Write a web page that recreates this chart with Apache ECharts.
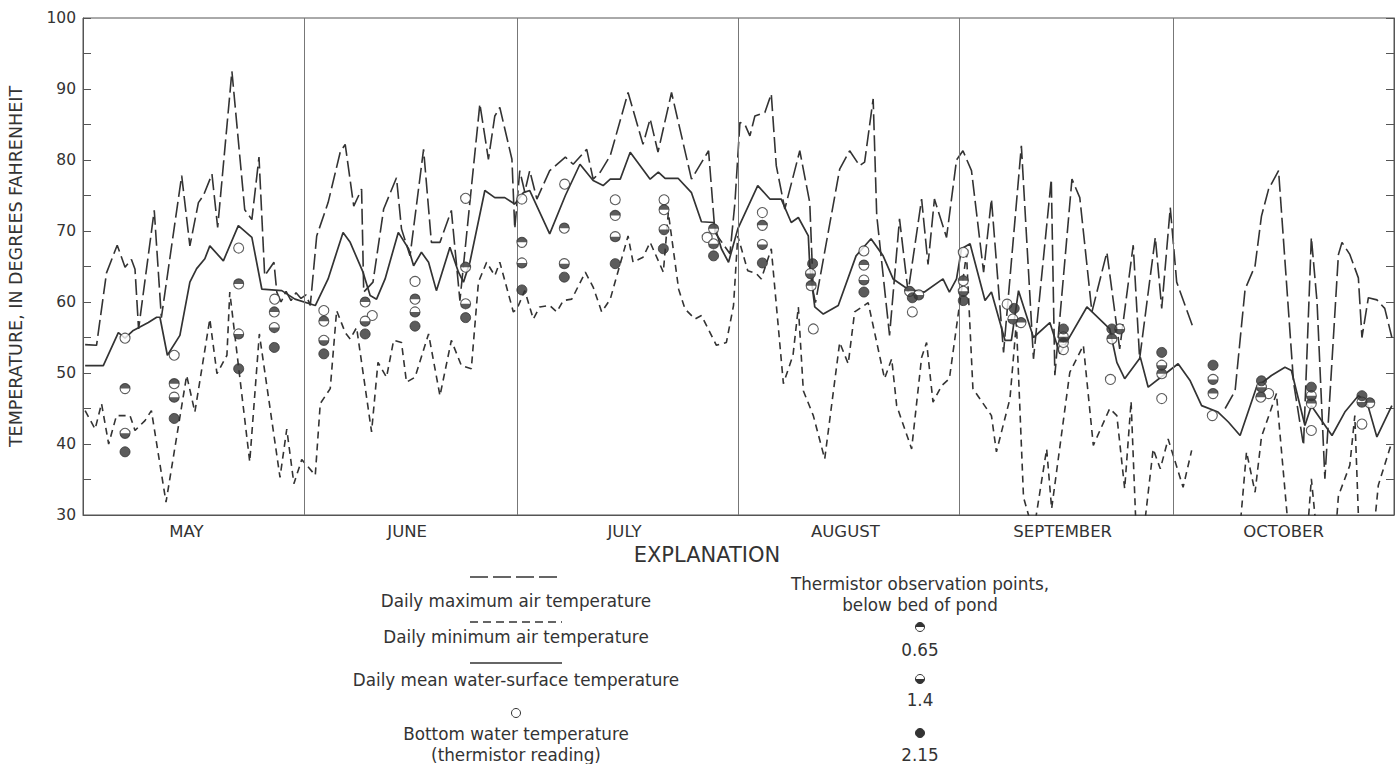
<!DOCTYPE html>
<html><head><meta charset="utf-8">
<script src="https://cdn.jsdelivr.net/npm/echarts@6/dist/echarts.min.js"></script>
<style>html,body{margin:0;padding:0;background:#fff}#c{width:1399px;height:764px}</style>
</head><body><div id="c"></div>
<script>
// x = day of season (0 = May 1), y = degrees Fahrenheit
const monthNames = ['MAY','JUNE','JULY','AUGUST','SEPTEMBER','OCTOBER'];
const monthLabelDays = [14.5, 45.5, 76, 107, 137.5, 168.5];
const monthStartDays = [31, 61, 92, 123, 153];
const yTickLabels = [30,40,50,60,70,80,90,100];

const maxAir = [[0.3,54],[1.9,53.9],[3.3,64.1],[4.8,68.0],[5.9,64.9],[6.8,66.0],[7.3,64.6],[7.8,56.2],[10.0,72.9],[11.0,57.8],[13.85,77.8],[15.0,67.9],[16.2,74.0],[16.9,75.0],[18.1,78.0],[18.9,70.5],[20.9,92.5],[22.7,73.0],[23.7,71.6],[24.7,80.4],[25.5,63.7],[26.8,65.6],[27.2,61.4],[27.8,60.0],[28.5,61.5],[29.2,60.2],[29.9,61.3],[30.6,60.5],[31.3,61.0],[31.9,59.5],[32.8,69.3],[34.4,74.0],[36.1,81.1],[36.8,82.2],[38.0,73.5],[39.1,75.9],[39.4,61.4],[40.7,62.8],[42.2,73.1],[44.0,77.5],[44.7,70.3],[45.9,66.5],[47.8,81.5],[48.9,68.4],[50.1,68.4],[51.7,72.9],[52.9,60.2],[55.7,87.9],[56.9,80.1],[57.8,86.2],[58.5,87.4],[60.2,80.1],[60.6,70.3],[61.3,78.5],[62.0,75.5],[62.7,78.5],[63.7,74.5],[65.5,78.5],[67.7,80.4],[68.8,79.4],[70.7,81.5],[71.6,77.3],[72.6,78.3],[74.0,80.6],[76.5,89.5],[78.6,82.2],[79.6,85.8],[80.7,81.1],[82.6,89.5],[85.4,77.3],[87.8,81.3],[88.7,69.8],[90.8,66.8],[91.5,74.0],[92.2,85.3],[92.9,85.0],[93.6,83.4],[94.3,86.2],[95.7,86.7],[96.6,89.3],[97.3,79.2],[98.5,73.1],[100.6,81.3],[102.0,74.0],[102.5,61.4],[102.8,59.9],[106.2,78.7],[107.6,81.3],[109.0,79.2],[109.7,79.7],[110.9,88.6],[111.4,72.2],[113.2,55.3],[114.6,71.7],[115.8,61.4],[117.7,74.5],[118.6,65.3],[119.5,74.5],[121.2,69.1],[122.6,80.0],[123.5,81.3],[124.7,78.5],[126.4,64.2],[127.5,74.5],[129.2,52.9],[131.7,82.0],[133.4,52.0],[135.9,77.3],[136.4,49.7],[138.8,77.3],[139.9,74.7],[141.6,58.6],[143.7,67.0],[145.5,53.4],[147.4,68.0],[148.3,52.0],[150.5,69.1],[151.4,59.1],[152.6,73.3],[153.5,62.8],[155.8,56.4],[158,'-'],[160.3,45.0],[161.7,47.5],[163.1,61.8],[164.5,65.1],[165.4,72.1],[166.4,75.9],[167.8,78.5],[169.9,48.7],[171.3,39.8],[172.4,69.1],[173.2,60.0],[174.3,35.1],[176.2,66.7],[176.7,68.4],[177.8,66.7],[179.0,63.4],[179.5,55.0],[180.4,60.6],[181.6,60.3],[182.7,59.1],[183.7,55.0]];

const minAir = [[0.3,44.7],[1.7,42.1],[2.6,45.7],[3.6,40.0],[4.7,44.0],[6.6,44.0],[7.3,41.9],[8.7,43.3],[9.6,44.7],[11.65,31.8],[14.55,49.65],[15.7,44.5],[17.8,57.6],[18.8,49.9],[20.2,52.5],[20.6,61.4],[23.4,37.5],[24.75,55.5],[27.65,35.3],[28.6,42.1],[29.6,34.4],[30.7,37.8],[31.4,37.0],[32.6,35.6],[33.3,45.7],[34.7,47.8],[35.6,58.8],[36.8,55.7],[37.5,54.8],[38.4,56.4],[40.5,41.7],[41.4,51.5],[42.6,49.4],[43.6,54.6],[44.7,54.3],[45.4,48.7],[46.6,49.4],[48.5,55.5],[50.1,46.8],[51.7,54.6],[53.1,51.05],[54.5,50.6],[55.5,62.8],[56.65,65.6],[57.8,63.7],[58.5,65.6],[60.4,58.6],[60.9,59.0],[62.0,61.6],[63.2,57.6],[64.1,59.3],[65.5,59.5],[66.5,58.6],[67.4,60.2],[68.6,60.4],[70.5,64.2],[71.6,62.1],[72.8,58.6],[74.0,60.4],[76.5,69.3],[77.2,65.6],[78.6,66.3],[79.6,68.4],[81.45,64.2],[82.15,72.6],[83.6,61.8],[84.5,59.0],[85.9,57.6],[86.8,58.1],[88.9,53.9],[90.3,54.3],[91.3,59.5],[91.9,69.3],[93.3,64.4],[94.5,64.0],[95.2,63.25],[96.6,67.5],[98.3,48.5],[99.65,52.5],[100.4,59.3],[101.1,47.5],[102.5,44.0],[104.1,37.9],[106.2,54.3],[107.4,51.3],[108.3,58.6],[110.2,59.9],[112.5,49.2],[113.5,52.0],[114.2,45.4],[116.3,39.3],[117.7,52.2],[118.4,54.3],[119.3,45.9],[120.5,48.2],[121.6,49.2],[124.0,66.8],[124.9,47.8],[127.5,44.0],[128.2,38.9],[130.1,46.4],[131.0,57.1],[132.0,32.5],[133.4,27.5],[135.25,39.3],[135.95,30.9],[138.5,50.1],[140.4,53.9],[141.8,39.8],[144.1,45.0],[145.1,44.0],[146.2,33.7],[147.1,46.0],[147.8,28.0],[148.8,27.0],[150.2,39.3],[151.2,36.5],[152.3,40.7],[154.4,33.9],[155.6,39.1],[158,'-'],[162.2,26.0],[163.3,38.9],[164.5,33.2],[165.4,41.0],[167.5,47.1],[169.0,30.0],[169.6,24.0],[171.6,24.0],[172.4,35.1],[172.9,30.0],[173.3,25.0],[175.7,26.0],[176.2,32.7],[177.8,37.0],[178.5,44.0],[179.0,30.0],[179.4,24.0],[180.8,24.0],[181.8,34.2],[183.7,40.3]];

const meanWater = [[0.3,51.05],[2.85,51.05],[4.96,55.7],[5.9,54.9],[7.06,56.0],[9.17,57.1],[10.34,57.85],[10.8,57.85],[11.84,52.5],[13.6,55.3],[15.0,62.8],[15.95,64.7],[17.1,66.1],[17.8,67.9],[19.7,65.8],[21.8,70.75],[23.7,69.1],[25.1,61.8],[27.9,61.6],[29.75,60.4],[32.6,59.5],[34.4,63.25],[36.5,69.8],[37.5,68.4],[39.3,64.2],[40.3,60.9],[41.2,60.4],[42.4,63.25],[44.25,69.8],[45.7,67.5],[46.4,65.1],[47.5,67.0],[48.5,65.6],[49.6,61.6],[51.5,67.7],[52.7,64.2],[53.4,62.8],[54.3,65.6],[56.4,75.7],[57.8,74.7],[59.2,74.7],[60.6,73.8],[61.8,75.4],[62.7,75.7],[65.5,69.6],[67.7,75.0],[69.75,79.4],[71.6,77.1],[73.0,76.4],[74.0,77.3],[75.4,77.3],[76.8,81.1],[79.6,77.3],[80.75,78.3],[81.7,77.4],[83.55,77.4],[85.4,75.4],[86.8,71.3],[88.5,71.2],[89.6,67.5],[90.6,65.6],[91.9,70.3],[94.7,76.4],[96.4,74.5],[98.0,74.5],[99.4,71.2],[100.4,71.9],[101.8,69.3],[102.0,65.1],[102.7,59.3],[103.9,58.3],[106.0,59.5],[108.5,66.5],[110.6,68.9],[112.3,66.5],[113.7,63.25],[115.8,61.8],[118.1,61.4],[120.7,63.25],[121.6,61.4],[122.6,63.25],[123.3,67.5],[124.5,68.2],[126.6,60.2],[127.5,61.4],[129.4,54.6],[130.3,54.6],[131.3,61.6],[133.4,55.0],[135.7,57.1],[137.1,52.7],[140.9,59.3],[144.1,56.2],[145.1,51.5],[146.2,49.2],[148.4,52.2],[149.5,48.0],[151.9,49.9],[153.7,51.3],[155.4,48.9],[157.0,45.4],[159.3,44.5],[160.75,43.1],[162.4,41.2],[164.7,48.0],[166.8,49.65],[168.7,50.8],[169.6,50.35],[171.5,42.6],[172.4,45.4],[175.3,41.2],[177.1,44.5],[179.0,46.8],[180.2,45.9],[181.6,41.0],[183.7,45.4]];

const bottomWater = [[5.9,54.9],[12.8,52.5],[21.85,67.6],[26.9,60.4],[33.8,58.8],[40.6,58.1],[46.6,62.9],[53.7,74.6],[61.6,74.5],[67.6,76.6],[74.7,74.4],[81.55,74.4],[87.6,69.1],[95.35,72.6],[102.5,56.2],[109.6,67.2],[116.4,58.6],[123.55,67.0],[129.7,59.7],[137.6,53.3],[144.2,49.1],[151.4,46.4],[158.5,44.0],[166.4,47.1],[172.4,41.9],[179.5,42.8]];

const therm065 = [[5.9,47.8],[12.8,48.5],[21.85,62.55],[26.85,58.6],[33.8,57.3],[39.6,60.0],[46.6,60.4],[53.7,64.9],[61.6,68.4],[67.55,70.4],[74.7,72.2],[81.55,73.0],[88.5,70.3],[95.35,70.8],[102.2,62.3],[109.6,65.2],[116.0,61.5],[123.55,63.0],[131.65,57.1],[137.6,54.3],[144.4,54.8],[151.4,49.9],[158.6,47.1],[165.3,46.6],[172.4,45.7],[180.6,45.8]];

const therm14 = [[5.9,41.5],[12.8,46.6],[21.85,55.5],[26.85,56.4],[33.8,54.6],[39.6,57.3],[46.6,58.6],[53.7,59.75],[61.6,65.5],[67.55,65.4],[74.7,69.2],[81.55,70.2],[88.5,68.2],[95.35,68.1],[102.1,64.0],[109.6,63.1],[117.3,61.0],[123.55,61.5],[130.5,57.6],[137.6,55.1],[145.5,56.2],[151.4,51.1],[158.6,49.1],[165.4,48.0],[172.4,46.8],[179.5,45.9]];

const therm215 = [[5.9,38.9],[12.8,43.6],[21.85,50.6],[26.85,53.6],[33.8,52.7],[39.6,55.5],[46.6,56.6],[53.7,57.8],[61.6,61.7],[67.55,63.5],[74.7,65.4],[81.45,67.5],[88.5,66.5],[95.35,65.5],[102.4,65.4],[109.6,61.4],[116.4,60.6],[123.55,60.2],[130.7,59.1],[137.6,56.2],[144.4,56.2],[151.4,52.9],[158.6,51.1],[165.4,48.9],[172.4,48.0],[179.5,46.8]];

const INK = '#333';
const FONT = '"DejaVu Sans", "Liberation Sans", sans-serif';
const TOP_HALF = 'path://M0,10 A10,10 0 0 1 20,10 Z';
const BOT_HALF = 'path://M0,0 A10,10 0 0 0 20,0 Z';
const SYM = 10;

function baseCircles(data, z) {
  return {type:'scatter', data, symbol:'circle', symbolSize:SYM, z,
    itemStyle:{color:'#fff', borderColor:INK, borderWidth:1.1}, silent:true};
}
function halfDisc(data, top, z) {
  return {type:'scatter', data, symbol: top ? TOP_HALF : BOT_HALF,
    symbolSize:[SYM, SYM/2], symbolOffset:[0, top ? -SYM/4 : SYM/4], z,
    itemStyle:{color:INK}, silent:true};
}

const chart = echarts.init(document.getElementById('c'), null, {renderer:'svg'});

const legendX = 516, rightX = 920;
const txt = (x, y, s, size) => ({type:'text', x, y, style:{text:s, font:`${size||15}px ${FONT}`, fill:INK, align:'center', verticalAlign:'middle'}});
const lineG = (y, dash) => ({type:'line', shape:{x1:470, y1:y, x2:562, y2:y}, style:{stroke:INK, lineWidth:1.5, lineDash:dash}});

const LS = 16.8;
const graphic = [
  {type:'text', x:707, y:555, style:{text:'EXPLANATION', font:`21px ${FONT}`, fill:INK, align:'center', verticalAlign:'middle'}},
  lineG(577, [18,5]),
  txt(legendX, 601, 'Daily maximum air temperature', LS),
  lineG(622, [8,5]),
  txt(legendX, 637, 'Daily minimum air temperature', LS),
  lineG(663, null),
  txt(legendX, 680, 'Daily mean water-surface temperature', LS),
  {type:'circle', shape:{cx:legendX, cy:713, r:4.5}, style:{fill:'#fff', stroke:INK, lineWidth:1}},
  txt(legendX, 734, 'Bottom water temperature', LS),
  txt(legendX, 755, '(thermistor reading)', LS),
  txt(rightX, 584, 'Thermistor observation points,', LS),
  txt(rightX, 605, 'below bed of pond', LS),
  {type:'circle', shape:{cx:rightX, cy:627, r:4.5}, style:{fill:'#fff', stroke:INK, lineWidth:1}},
  {type:'sector', shape:{cx:rightX, cy:627, r:4.5, r0:0, startAngle:Math.PI, endAngle:2*Math.PI, clockwise:true}, style:{fill:INK}},
  txt(rightX, 650, '0.65', LS),
  {type:'circle', shape:{cx:rightX, cy:679, r:4.5}, style:{fill:'#fff', stroke:INK, lineWidth:1}},
  {type:'sector', shape:{cx:rightX, cy:679, r:4.5, r0:0, startAngle:0, endAngle:Math.PI, clockwise:true}, style:{fill:INK}},
  txt(rightX, 700, '1.4', LS),
  {type:'circle', shape:{cx:rightX, cy:733, r:4.5}, style:{fill:INK, stroke:INK, lineWidth:1}},
  txt(rightX, 755, '2.15', LS)
];

const option = {
  backgroundColor:'#fff',
  animation:false,
  grid:{left:83, right:5, top:18, bottom:249, show:true, borderColor:'#555', borderWidth:1, backgroundColor:'transparent',
        containLabel:false, outerBoundsMode:'none'},
  xAxis:{type:'value', min:0, max:184,
    axisLine:{show:true, lineStyle:{color:'#555', width:1}},
    axisTick:{show:false}, splitLine:{show:false},
    axisLabel:{customValues:monthLabelDays, margin:8, color:'#333', fontFamily:FONT, fontSize:16.5,
      formatter:(v)=>{const i=monthLabelDays.indexOf(v); return i>=0?monthNames[i]:'';}}},
  yAxis:[
    {type:'value', min:30, max:100, interval:5, position:'left',
     name:'TEMPERATURE, IN DEGREES FAHRENHEIT', nameLocation:'middle', nameGap:58, nameRotate:90,
     nameTextStyle:{color:'#333', fontFamily:FONT, fontSize:17.5},
     axisLine:{show:true, lineStyle:{color:'#555'}},
     axisTick:{show:true, inside:true, length:8, lineStyle:{color:'#555'}},
     axisLabel:{color:'#333', fontFamily:FONT, fontSize:15.5, margin:7,
       formatter:(v)=> yTickLabels.indexOf(v)>=0 ? String(v) : ''},
     splitLine:{show:false}},
    {type:'value', min:30, max:100, interval:5, position:'right',
     axisLine:{show:true, lineStyle:{color:'#555'}},
     axisTick:{show:true, inside:true, length:8, lineStyle:{color:'#555'}},
     axisLabel:{show:false}, splitLine:{show:false}}
  ],
  graphic,
  series:[
    {type:'line', name:'Daily maximum air temperature', data:maxAir, showSymbol:false, symbol:'none', clip:true, z:2,
     lineStyle:{color:INK, width:1.6, type:[16,5]},
     markLine:{silent:true, symbol:['none','none'], label:{show:false},
       lineStyle:{type:'solid', color:'#777', width:1},
       data: monthStartDays.map(d=>({xAxis:d}))}},
    {type:'line', name:'Daily minimum air temperature', data:minAir, showSymbol:false, symbol:'none', clip:true, z:2,
     lineStyle:{color:INK, width:1.6, type:[7,5]}},
    {type:'line', name:'Daily mean water-surface temperature', data:meanWater, showSymbol:false, symbol:'none', clip:true, z:2,
     lineStyle:{color:INK, width:1.7, type:'solid'}},
    baseCircles(bottomWater, 5),
    baseCircles(therm065, 5),
    halfDisc(therm065, true, 6),
    baseCircles(therm14, 5),
    halfDisc(therm14, false, 6),
    {type:'scatter', data:therm215, symbol:'circle', symbolSize:SYM, z:6,
     itemStyle:{color:INK, borderColor:INK, borderWidth:1}, silent:true}
  ]
};
chart.setOption(option);
</script></body></html>
